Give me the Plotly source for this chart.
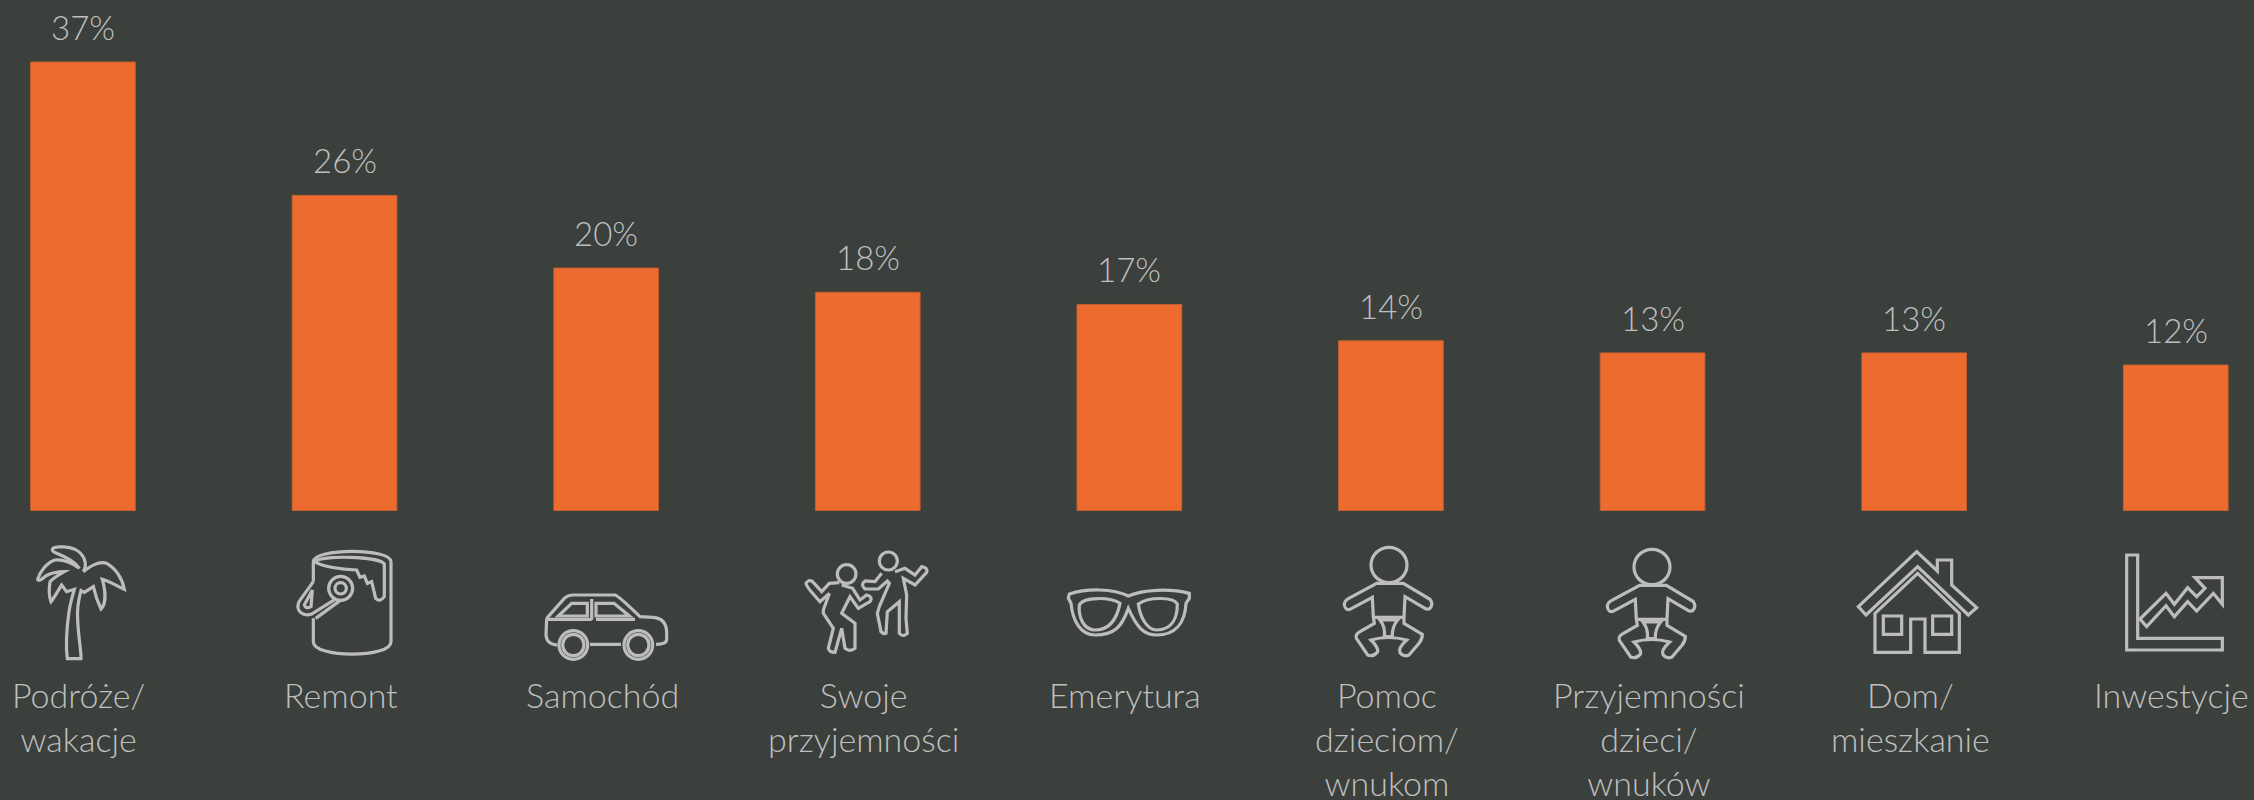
import re
import plotly.graph_objects as go

categories = ["Podróże/<br>wakacje", "Remont", "Samochód", "Swoje<br>przyjemności", "Emerytura",
              "Pomoc<br>dzieciom/<br>wnukom", "Przyjemności<br>dzieci/<br>wnuków", "Dom/<br>mieszkanie", "Inwestycje"]
values = [37, 26, 20, 18, 17, 14, 13, 13, 12]
value_labels = ["37%", "26%", "20%", "18%", "17%", "14%", "13%", "13%", "12%"]

BG = "#3C403D"
BAR = "#EE6B2F"
BAR_EDGE = "#C4602F"
TEXT = "#BFBFBF"
ICON = "#BDBDBD"
W, H = 2254, 800
FONT = "Lato"


def circle(cx, cy, rx, ry=None):
    ry = rx if ry is None else ry
    k = 0.5523
    return (f"M {cx-rx},{cy} C {cx-rx},{cy-k*ry} {cx-k*rx},{cy-ry} {cx},{cy-ry} "
            f"C {cx+k*rx},{cy-ry} {cx+rx},{cy-k*ry} {cx+rx},{cy} "
            f"C {cx+rx},{cy+k*ry} {cx+k*rx},{cy+ry} {cx},{cy+ry} "
            f"C {cx-k*rx},{cy+ry} {cx-rx},{cy+k*ry} {cx-rx},{cy} Z")


BABY = [
    circle(162, 75, 54, 53),
    "M 125,130 L 205,130 L 285,178 Q 296,192 285,205 Q 278,210 270,205 L 210,170 L 207,232 L 207,250 L 262,283 "
    "Q 262,298 252,310 L 222,345 Q 205,352 195,338 Q 188,325 215,300 Q 160,285 108,300 Q 130,322 128,335 "
    "Q 115,352 98,345 L 64,295 Q 60,283 75,275 L 118,250 L 115,232 L 112,172 L 45,208 Q 32,212 28,195 Q 28,182 40,176 Z",
    "M 115,232 L 207,232",
    "M 135,240 Q 152,262 148,290 L 172,290 Q 170,262 188,240 Z",
]

icons = [
    (25, 540, [
        "M 127,356 L 168,356 C 170,345 160,290 158,240 C 156,210 160,180 168,152 L 178,157 L 205,140 "
        "C 212,170 220,190 228,207 C 240,195 245,165 232,118 C 255,125 280,140 298,148 C 292,115 272,85 245,70 "
        "C 220,62 195,80 175,95 C 190,70 175,40 150,28 C 130,20 100,18 85,24 C 78,30 85,36 95,40 "
        "C 125,52 150,65 163,85 C 140,68 115,58 90,60 C 65,68 45,95 38,118 C 42,125 50,118 62,108 "
        "C 80,98 100,95 118,95 C 100,105 85,115 75,125 C 72,145 72,170 78,185 C 90,170 100,150 110,135 "
        "L 125,155 L 148,148 C 140,175 135,195 132,215 C 125,265 122,320 127,356 Z",
    ]),
    (285, 540, [
        "M 85,125 L 85,65 C 85,24 318,24 318,65 L 318,305 C 318,355 85,355 85,305 L 85,235",
        "M 90,65 C 110,80 170,88 215,90 L 225,112 L 238,108 L 247,130 L 260,125 L 272,175 Q 285,188 298,170 L 298,72 "
        "C 285,48 105,45 90,65 Z",
        circle(167, 145, 36),
        circle(167, 145, 17),
        "M 85,125 L 42,185 C 30,215 55,230 80,222 L 150,178",
        "M 82,150 L 58,195 Q 62,208 78,200 Z",
        "M 92,235 L 165,182",
    ]),
    (540, 585, [
        "M 20,100 L 75,38 Q 85,30 100,30 L 225,30 Q 235,32 300,95 L 340,97 Q 378,100 380,140 L 380,165 "
        "Q 378,178 348,178 M 243,178 L 150,178 M 52,180 Q 20,178 18,150 L 20,100",
        "M 22,103 L 155,103 M 155,42 L 155,105 M 168,103 L 285,103",
        "M 55,93 L 95,55 L 142,55 L 142,93 Z",
        "M 168,55 L 222,55 L 268,93 L 168,93 Z",
        circle(100, 180, 32), circle(100, 180, 43),
        circle(295, 180, 32), circle(295, 180, 43),
    ]),
    (800, 545, [
        circle(140, 87, 28),
        "M 118,113 L 88,115 L 65,140 L 38,110 Q 25,102 18,115 Q 18,125 60,170 L 88,145 L 70,195 L 70,205 L 100,250 "
        "L 85,310 Q 88,322 105,322 L 125,250 L 135,310 Q 150,322 165,310 L 165,235 L 125,205 L 150,155 L 175,190 "
        "L 210,170 Q 220,155 200,150 L 180,165 L 158,130 L 125,120",
        circle(265, 48, 27),
        "M 245,85 L 225,110 L 195,108 Q 180,118 195,132 L 235,132 L 262,108 L 268,115 L 238,185 L 232,205 L 243,260 "
        "Q 250,268 258,265 L 262,200 L 298,170 L 298,265 Q 308,278 322,265 L 318,220 L 320,150 L 310,100 L 345,120 "
        "L 380,82 Q 385,68 365,65 L 345,90 L 315,70 L 285,80",
    ]),
    (1060, 580, [
        "M 28,42 C 80,25 160,25 205,48 C 250,28 330,25 388,40 L 388,55 L 378,70 C 375,130 345,165 290,165 "
        "C 250,165 230,140 205,85 C 185,140 165,165 105,165 C 60,165 38,120 33,70 L 25,55 Z",
        "M 58,75 C 70,50 150,50 180,70 C 170,120 145,150 105,150 C 70,150 55,110 58,75 Z",
        "M 235,72 C 265,50 340,50 352,72 C 352,115 335,150 290,150 C 260,150 240,110 235,72 Z",
    ]),
    (1335, 540, BABY),
    (1598, 542, BABY),
    (1850, 545, [
        "M 25,185 L 200,20 L 262,78 L 262,45 L 305,45 L 305,120 L 380,188 L 355,210 L 203,65 L 48,210 Z",
        "M 203,85 L 75,205 L 75,322 L 182,322 L 182,222 L 225,222 L 225,322 L 328,322 L 328,205 Z",
        "M 100,213 L 155,213 L 155,268 L 100,268 Z",
        "M 248,213 L 305,213 L 305,268 L 248,268 Z",
    ]),
    (2115, 545, [
        "M 35,30 L 68,30 L 68,280 L 322,280 L 322,315 L 35,315 Z",
        "M 75,222 L 153,145 L 178,178 L 218,128 L 245,155 L 270,130 L 240,98 L 322,98 L 322,178 L 295,145 "
        "L 245,198 L 218,170 L 178,215 L 153,182 L 95,245 Z",
    ]),
]


def to_paper(path, ox, oy):
    """Icon outlines are drawn at 3x in local units; map them onto the page."""
    def pair(m):
        x = (float(m.group(1)) / 3 + ox) / W
        y = 1 - (float(m.group(2)) / 3 + oy) / H
        return f"{x:.5f},{y:.5f}"
    return re.sub(r"(-?[\d.]+),(-?[\d.]+)", pair, path)


shapes = [
    dict(type="path", xref="paper", yref="paper", path=to_paper(p, ox, oy),
         line=dict(color=ICON, width=3.2), fillcolor="rgba(0,0,0,0)", layer="above")
    for ox, oy, paths in icons for p in paths
]

annotations = [
    dict(x=i, y=1 - 672 / H, xref="x", yref="paper", text=c, showarrow=False, xanchor="center", yanchor="top",
         xshift=-4, align="center", font=dict(family=FONT, size=34, color=TEXT, weight=300))
    for i, c in enumerate(categories)
] + [
    dict(x=i, y=v, xref="x", yref="y", text=t, showarrow=False, xanchor="center", yanchor="bottom",
         yshift=13, font=dict(family=FONT, size=33, color=TEXT, weight=300))
    for i, (v, t) in enumerate(zip(values, value_labels))
]

fig = go.Figure(go.Bar(
    x=list(range(len(categories))), y=values,
    marker=dict(color=BAR, line=dict(color=BAR_EDGE, width=1)),
))
fig.update_layout(
    width=W, height=H, margin=dict(l=0, r=0, t=0, b=0), paper_bgcolor=BG, plot_bgcolor=BG,
    showlegend=False, bargap=0.6, shapes=shapes, annotations=annotations,
    xaxis=dict(range=[-0.317, 8.299], visible=False, fixedrange=True),
    yaxis=dict(range=[-23.89, 42.12], visible=False, fixedrange=True),
)
fig.write_html("out.html", config=dict(displayModeBar=False),
               post_script="document.body.style.margin='0';document.body.style.background='%s';" % BG)
